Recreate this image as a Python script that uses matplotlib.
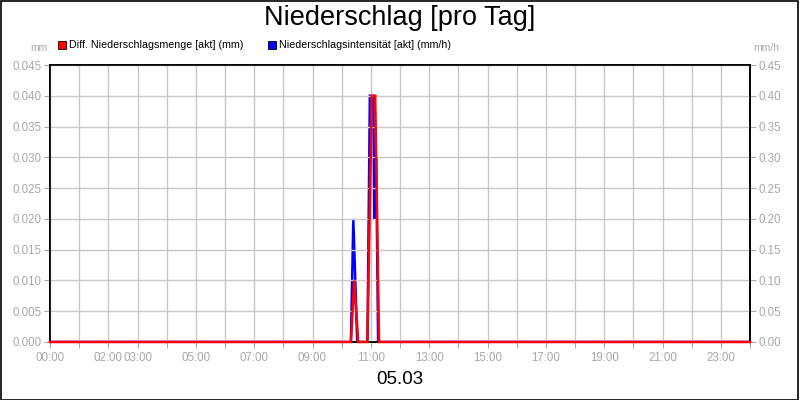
import matplotlib
matplotlib.use("Agg")
import matplotlib.pyplot as plt
from matplotlib.patches import Rectangle

# ---- data ----
red_times = ["00:00", "10:19", "10:26", "10:34", "10:53", "11:02", "11:09", "11:17", "24:00"]
red_vals = [0, 0, 0.01, 0, 0, 0.04, 0.04, 0, 0]
blue_times = ["00:00", "10:19", "10:24", "10:32", "10:53", "10:58", "11:05", "11:07", "11:11", "11:15", "24:00"]
blue_vals = [0, 0, 0.2, 0, 0, 0.4, 0.4, 0.2, 0.3, 0, 0]
xtick_labels = ["00:00", "02:00", "03:00", "05:00", "07:00", "09:00", "11:00",
                "13:00", "15:00", "17:00", "19:00", "21:00", "23:00"]
left_ticks = [0.000, 0.005, 0.010, 0.015, 0.020, 0.025, 0.030, 0.035, 0.040, 0.045]
right_ticks = [0.00, 0.05, 0.10, 0.15, 0.20, 0.25, 0.30, 0.35, 0.40, 0.45]
series_names = ["Diff. Niederschlagsmenge [akt] (mm)", "Niederschlagsintensität [akt] (mm/h)"]
title = "Niederschlag [pro Tag]"
date_label = "05.03"


def to_min(t):
    h, m = t.split(":")
    return int(h) * 60 + int(m)


plt.rcParams['font.family'] = ['Liberation Sans', 'DejaVu Sans']
GREY = "#a8a8a8"
GRID = "#c8c8c8"

fig = plt.figure(figsize=(8, 4), dpi=100)
fig.patch.set_facecolor("white")
fig.add_artist(Rectangle((0.001, 0.001), 0.997, 0.996, transform=fig.transFigure,
                         fill=False, edgecolor="black", linewidth=1.2))

ax = fig.add_axes([50 / 800, 58 / 400, 700 / 800, 277 / 400])
ax2 = ax.twinx()

ax.set_xlim(0, 1440)
ax.set_ylim(0, 0.045)
ax2.set_ylim(0, 0.45)

hour_pos = [h * 60 for h in range(0, 25)]
labelled = {to_min(t): t for t in xtick_labels}
ax.set_xticks(hour_pos)
ax.set_xticklabels([labelled.get(p, "") for p in hour_pos])
ax.tick_params(axis="x", length=4, color=GREY, labelsize=8.3, labelcolor=GREY, pad=3)

ax.set_yticks(left_ticks)
ax.set_yticklabels([f"{v:.3f}" for v in left_ticks])
ax.tick_params(axis="y", length=4, color=GREY, labelsize=8.3, labelcolor=GREY, pad=2)
ax2.set_yticks(right_ticks)
ax2.set_yticklabels([f"{v:.2f}" for v in right_ticks])
ax2.tick_params(axis="y", length=4, color=GREY, labelsize=8.3, labelcolor=GREY, pad=2)

ax.grid(True, which="major", color=GRID, linewidth=1.0)
ax.set_axisbelow(True)
for a in (ax, ax2):
    for s in a.spines.values():
        s.set_color("black")
        s.set_linewidth(1.2)

# blue on right axis, red on left axis; red drawn on top
ax2.plot([to_min(t) for t in blue_times], blue_vals, color="#0000ff", linewidth=1.8,
         solid_joinstyle="miter", zorder=2)
ax.set_zorder(ax2.get_zorder() + 1)
ax.patch.set_visible(False)
ax.plot([to_min(t) for t in red_times], red_vals, color="#ff0000", linewidth=1.8,
        solid_joinstyle="miter", zorder=3, clip_on=False)

fig.text(0.5, 1 - 18 / 400, title, ha="center", va="center", fontsize=19.5, color="black")
fig.text(0.5, 1 - 380 / 400, date_label, ha="center", va="center", fontsize=13.5, color="black")

fig.text(48 / 800, 1 - 48 / 400, "mm", ha="right", va="center", fontsize=7.5, color=GREY)
fig.text(753 / 800, 1 - 48 / 400, "mm/h", ha="left", va="center", fontsize=7.5, color=GREY)

# legend
fig.add_artist(Rectangle((58 / 800, 1 - 49 / 400), 8 / 800, 8 / 400, transform=fig.transFigure,
                         facecolor="#ff0000", edgecolor="black", linewidth=0.6))
fig.text(69 / 800, 1 - 45 / 400, series_names[0], ha="left", va="center", fontsize=7.7, color="black")
fig.add_artist(Rectangle((268 / 800, 1 - 49 / 400), 8 / 800, 8 / 400, transform=fig.transFigure,
                         facecolor="#0000ff", edgecolor="black", linewidth=0.6))
fig.text(279 / 800, 1 - 45 / 400, series_names[1], ha="left", va="center", fontsize=7.7, color="black")

fig.savefig("out.png", dpi=100)
